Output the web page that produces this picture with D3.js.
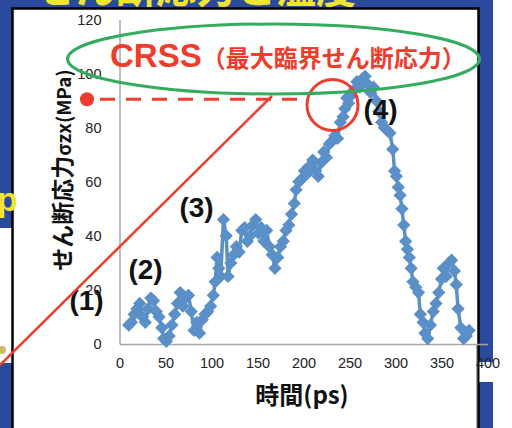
<!DOCTYPE html>
<html>
<head>
<meta charset="utf-8">
<script src="https://cdn.jsdelivr.net/npm/d3@7"></script>
<style>
  body { margin: 0; background: #fff; }
  svg { display: block; }
</style>
</head>
<body>
<svg id="chart" width="512" height="428"></svg>
<script>
// data: time (ps) and shear stress (MPa)
var times = [10,13,16,19,22,25,28,31,34,37,40,43,46,48,51,54,57,60,63,66,69,72,75,78,81,84,87,90,93,96,99,102,104,106,108,110,113,116,118,121,124,127,130,133,136,139,142,145,148,151,154,157,160,163,166,169,172,175,178,181,184,187,190,192,195,198,201,204,207,210,213,216,219,222,225,228,231,234,237,240,243,245,247,249,252,255,258,261,264,267,270,273,276,279,282,285,288,291,294,297,299,301,303,305,307,309,311,313,315,317,319,322,325,327,330,332,335,338,341,344,347,350,352,355,358,361,364,366,368,371,374,377,380];
var stress = [7,8,11,13,15,10,8,13,17,16,12,10,6,2,1,3,7,11,15,19,14,17,18,12,5,8,4,9,11,12,14,18,23,32,28,25,46,40,25,30,33,36,34,42,43,38,40,44,46,41,43,38,42,36,33,28,32,36,38,42,44,48,52,57,60,61,64,63,66,68,64,62,67,71,69,74,75,77,76,82,84,87,91,89,92,94,97,95,98,99,96,93,95,90,86,82,80,79,78,72,64,62,58,55,50,44,38,35,32,28,23,21,19,11,8,4,2,7,12,15,19,24,28,25,30,31,27,22,13,6,2,3,5];
var xTicks = [0,50,100,150,200,250,300,350,400];
var yTicks = [0,20,40,60,80,100,120];
var phaseLabels = ["(1)","(2)","(3)","(4)"];
var crss = 90.5;

var svg = d3.select("#chart");
var blue = "#2a4b9d", red = "#ee3d2c", green = "#35ab5e", series = "#5b8fc8";
var jp = "'Noto Sans CJK JP', sans-serif";
var latin = "'Liberation Sans', Arial, sans-serif";

// slide background
svg.append("rect").attr("width", 512).attr("height", 428).attr("fill", blue);
svg.append("text")
   .attr("x", 36).attr("y", 3)
   .attr("font-family", jp).attr("font-weight", "bold").attr("font-size", "40px")
   .attr("fill", "#f2e531")
   .text("せん断応力と温度");
svg.append("rect").attr("x", 493).attr("y", 0).attr("width", 19).attr("height", 428).attr("fill", "#fff");
svg.append("rect").attr("x", 0).attr("y", 228).attr("width", 12).attr("height", 135).attr("fill", "#fff");
svg.append("circle").attr("cx", 2).attr("cy", 350).attr("r", 4).attr("fill", "#cdbb6a");

// white panel
svg.append("rect")
   .attr("x", 12.5).attr("y", 8.5).attr("width", 466).attr("height", 430)
   .attr("fill", "#fff").attr("stroke", "#000").attr("stroke-width", 2.5);

svg.append("text")
   .attr("x", -3).attr("y", 211)
   .attr("font-family", latin).attr("font-weight", "bold").attr("font-size", "34px")
   .attr("fill", "#f2e531")
   .text("p");

// scales
var x = d3.scaleLinear().domain([0, 400]).range([119.5, 487.5]);
var y = d3.scaleLinear().domain([0, 120]).range([344, 19.5]);

// chart border line under the axis, and white box behind the last tick label
svg.append("line").attr("x1", 476.5).attr("x2", 476.5).attr("y1", 344).attr("y2", 428)
   .attr("stroke", "#a6a6a6").attr("stroke-width", 1);
svg.append("rect").attr("x", 479.5).attr("y", 362).attr("width", 22).attr("height", 20).attr("fill", "#fff");

// axes (excel style: no tick marks)
var xAxis = svg.append("g")
   .attr("transform", "translate(0," + y(0) + ")")
   .call(d3.axisBottom(x).tickValues(xTicks).tickSize(0).tickPadding(14));
var yAxis = svg.append("g")
   .attr("transform", "translate(" + x(0) + ",0)")
   .call(d3.axisLeft(y).tickValues(yTicks).tickSize(0).tickPadding(18));
[xAxis, yAxis].forEach(function(a) {
    a.select(".domain").attr("stroke", "#a6a6a6").attr("stroke-width", 1.5);
    a.selectAll("text")
     .attr("font-family", latin).attr("font-size", "14.5px").attr("fill", "#222");
});

// axis titles
svg.append("text")
   .attr("x", 302).attr("y", 404)
   .attr("text-anchor", "middle")
   .attr("font-family", jp).attr("font-weight", "bold").attr("font-size", "24px")
   .attr("fill", "#111")
   .text("時間(ps)");

var yt = svg.append("text")
   .attr("transform", "translate(71,170) rotate(-90)")
   .attr("text-anchor", "middle")
   .attr("font-family", jp).attr("font-weight", "bold")
   .attr("fill", "#111");
yt.append("tspan").attr("font-size", "23px").text("せん断応力");
yt.append("tspan").attr("font-size", "19px").text("σzx(MPa)");

// series line + diamond markers
var pts = times.map(function(t, i) { return [t, stress[i]]; });
svg.append("path")
   .datum(pts)
   .attr("fill", "none")
   .attr("stroke", series)
   .attr("stroke-width", 3.5)
   .attr("d", d3.line().x(function(d) { return x(d[0]); }).y(function(d) { return y(d[1]); }));
svg.selectAll(".mk")
   .data(pts)
   .enter().append("path")
   .attr("class", "mk")
   .attr("transform", function(d) { return "translate(" + x(d[0]) + "," + y(d[1]) + ") rotate(45)"; })
   .attr("d", d3.symbol().type(d3.symbolSquare).size(88))
   .attr("fill", series);

// phase labels
var labelPos = [[86.5, 310], [145.5, 279], [196.5, 217], [380.5, 119]];
svg.selectAll(".phase")
   .data(phaseLabels)
   .enter().append("text")
   .attr("class", "phase")
   .attr("x", function(d, i) { return labelPos[i][0]; })
   .attr("y", function(d, i) { return labelPos[i][1]; })
   .attr("text-anchor", "middle")
   .attr("font-family", latin).attr("font-weight", "bold").attr("font-size", "28px")
   .attr("fill", "#111")
   .text(function(d) { return d; });

// CRSS annotation
svg.append("line")
   .attr("x1", 100).attr("x2", 308).attr("y1", y(crss)).attr("y2", y(crss))
   .attr("stroke", red).attr("stroke-width", 3).attr("stroke-dasharray", "15,11");
svg.append("circle")
   .attr("cx", 87).attr("cy", y(crss)).attr("r", 7).attr("fill", red);
svg.append("circle")
   .attr("cx", 332.5).attr("cy", 105).attr("r", 25.5)
   .attr("fill", "none").attr("stroke", red).attr("stroke-width", 3);
svg.append("line")
   .attr("x1", 272).attr("y1", 96).attr("x2", -5).attr("y2", 370)
   .attr("stroke", red).attr("stroke-width", 2.5);
svg.append("ellipse")
   .attr("cx", 273.5).attr("cy", 59).attr("rx", 206).attr("ry", 35)
   .attr("fill", "none").attr("stroke", green).attr("stroke-width", 3);
var ct = svg.append("text")
   .attr("x", 110).attr("y", 67)
   .attr("font-weight", "bold").attr("fill", red);
ct.append("tspan").attr("font-family", latin).attr("font-size", "33px").text("CRSS");
ct.append("tspan").attr("font-family", jp).attr("font-size", "24px").text("（最大臨界せん断応力）");
</script>
</body>
</html>
